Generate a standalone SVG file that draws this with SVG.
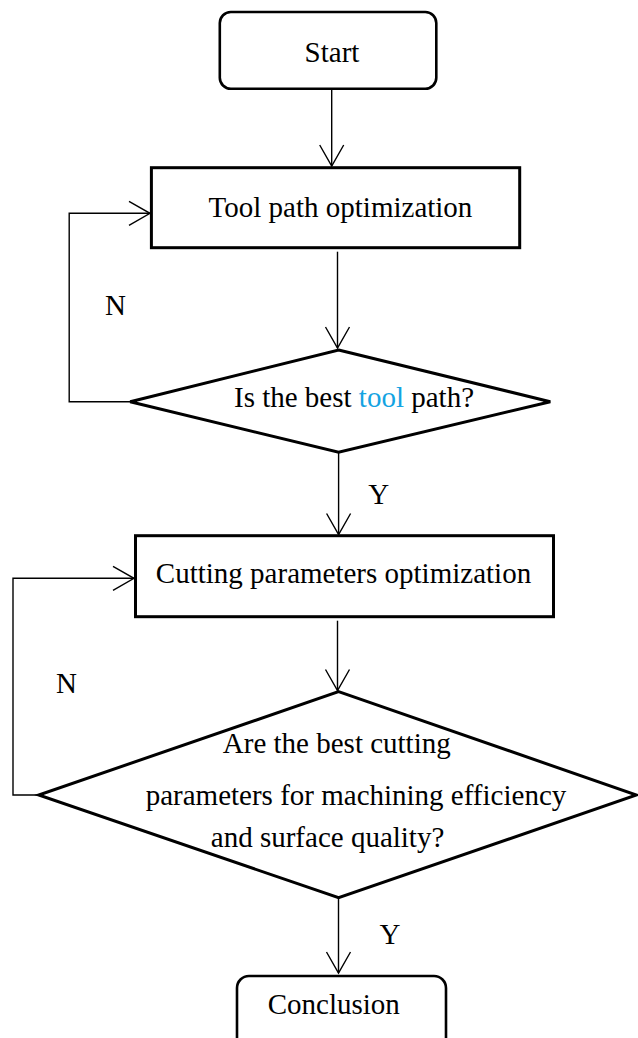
<svg xmlns="http://www.w3.org/2000/svg" width="638" height="1038" viewBox="0 0 638 1038">
<style>
  text { font-family: "Liberation Serif", "Times New Roman", serif; font-size: 29px; fill: #000; }
  .term { fill: #fff; stroke: #000; stroke-width: 2.6; }
  .proc { fill: #fff; stroke: #000; stroke-width: 3; }
  .dec { fill: #fff; stroke: #000; stroke-width: 3; stroke-linejoin: miter; }
  .conn { fill: none; stroke: #000; stroke-width: 1.4; marker-end: url(#arr); }
  .blue { fill: #14a3e2; }
</style>
<defs>
  <marker id="arr" markerUnits="userSpaceOnUse" viewBox="-23 -14 25 28" markerWidth="25" markerHeight="28" refX="0" refY="0" orient="auto">
    <path d="M-21,-12 L0,0 L-21,12" fill="none" stroke="#000" stroke-width="1.4"/>
  </marker>
</defs>
<rect width="638" height="1038" fill="#fff"/>

<g id="connectors">
  <path class="conn" d="M331.7,88.7 V166"/>
  <path class="conn" d="M337.5,251.7 V348"/>
  <path class="conn" d="M338.6,452.3 V534.5"/>
  <path class="conn" d="M130.2,401.7 H69.2 V213.3 H150"/>
  <path class="conn" d="M337.5,620.7 V690.5"/>
  <path class="conn" d="M38.7,795 H13 V578.3 H134"/>
  <path class="conn" d="M338.5,897.7 V973"/>
</g>

<g id="start">
  <rect class="term" x="219.8" y="12" width="216.5" height="76.7" rx="11" ry="11"/>
  <text x="332" y="62" text-anchor="middle">Start</text>
</g>

<g id="tool-path">
  <rect class="proc" x="151.4" y="167.7" width="368.3" height="80"/>
  <text x="340.5" y="216.7" text-anchor="middle">Tool path optimization</text>
</g>

<g id="decision-1">
  <polygon class="dec" points="338.6,350 550.3,401.7 338.6,452.3 130.2,401.7"/>
  <text x="234" y="406.7">Is the best <tspan class="blue">tool</tspan> path?</text>
</g>

<g id="label-n1"><text x="105" y="315">N</text></g>
<g id="label-y1"><text x="368.3" y="504">Y</text></g>

<g id="cutting">
  <rect class="proc" x="135.5" y="535.7" width="418" height="81"/>
  <text x="343.5" y="583.3" text-anchor="middle">Cutting parameters optimization</text>
</g>

<g id="label-n2"><text x="56" y="693.3">N</text></g>

<g id="decision-2">
  <polygon class="dec" points="338.6,691.7 636.5,795 338.6,897.7 38.7,795"/>
  <text x="336.8" y="752.7" text-anchor="middle">Are the best cutting</text>
  <text x="145.7" y="805">parameters for machining efficiency</text>
  <text x="210.8" y="846.7">and surface quality?</text>
</g>

<g id="label-y2"><text x="379.5" y="943.5">Y</text></g>

<g id="conclusion">
  <rect class="term" x="237" y="976" width="209" height="80" rx="12" ry="12"/>
  <text x="267.7" y="1014">Conclusion</text>
</g>
</svg>
